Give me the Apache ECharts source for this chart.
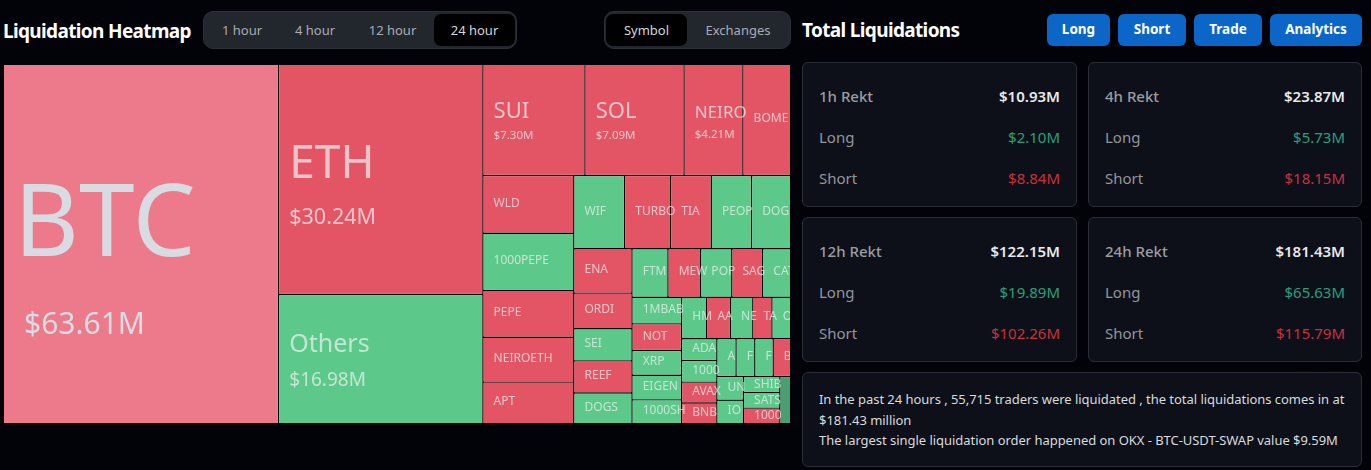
<!DOCTYPE html>
<html>
<head>
<meta charset="utf-8">
<title>Liquidation Heatmap</title>
<script src="https://cdn.jsdelivr.net/npm/echarts@6/dist/echarts.min.js"></script>
<style>
html, body { margin: 0; padding: 0; background: #020308; width: 1371px; height: 470px; overflow: hidden; }
body { font-family: "Noto Sans", sans-serif; color: #fff; position: relative; }
.abs { position: absolute; box-sizing: border-box; white-space: nowrap; }
.title { font-size: 19px; font-weight: 700; letter-spacing: -0.65px; line-height: 24px; }
.pill { background: #22262d; border: 1px solid #2c3037; border-radius: 10px; }
.tab { font-size: 13px; color: #a9adb3; text-align: center; line-height: 32px; height: 32px; }
.tab.on { background: #000; border-radius: 7px; color: #d5d7da; }
.btn { background: #0b66c8; border-radius: 6px; font-size: 13.5px; font-weight: 700; text-align: center; line-height: 31px; height: 32px; }
.card { background: #0d1018; border: 1px solid #2a2e36; border-radius: 6px; }
.row { font-size: 15px; line-height: 20px; }
.note { font-size: 13px; color: #d9dbde; line-height: 20.5px; letter-spacing: -0.04px; }
#chart { position: absolute; left: 4px; top: 65px; width: 786px; height: 358px; }
</style>
</head>
<body>
<div id="chart"></div>
<script>
// names as far as they can be read in the cells
var names = ['BTC', 'ETH', 'Others', 'SUI', 'SOL', 'NEIRO', 'BOME', 'WLD', '1000PEPE', 'PEPE', 'NEIROETH', 'APT',
    'WIF', 'TURBO', 'TIA', 'PEOP', 'DOGE', 'ENA', 'ORDI', 'SEI', 'REEF', 'DOGS',
    'FTM', 'MEW', 'POP', 'SAG', 'CAT', '1MBAB', 'NOT', 'XRP', 'EIGEN', '1000SH',
    'HM', 'AA', 'NE', 'TA', 'O', 'ADA', '1000', 'AVAX', 'BNB',
    'A', 'F', 'F', 'B', 'UN', 'IO', 'SHIB', 'SATS', '1000', ''];
var values = [63.61, 30.24, 16.98, 7.30, 7.09, 4.21, 3.42, 3.37, 3.34, 2.74, 2.62, 2.43,
    2.39, 2.17, 1.91, 1.90, 1.84, 1.66, 1.33, 1.205, 1.20, 1.15,
    1.12, 1.02, 0.97, 0.96, 0.875, 0.85, 0.845, 0.79, 0.785, 0.76,
    0.67, 0.63, 0.60, 0.51, 0.50, 0.495, 0.49, 0.475, 0.47,
    0.465, 0.455, 0.445, 0.425, 0.405, 0.40, 0.375, 0.37, 0.365, 0.33];
// 1 = long side (green), 0 = short side (red)
var isLong = [0, 0, 1, 0, 0, 0, 0, 0, 1, 0, 0, 0,
    1, 0, 0, 1, 1, 0, 0, 1, 0, 1,
    1, 0, 1, 0, 1, 1, 0, 1, 1, 1,
    1, 0, 1, 0, 1, 1, 1, 0, 0,
    1, 1, 1, 0, 1, 1, 1, 1, 0, 1];

var timeTabs = ['1 hour', '4 hour', '12 hour', '24 hour'];
var groupTabs = ['Symbol', 'Exchanges'];
var actions = ['Long', 'Short', 'Trade', 'Analytics'];
var rektLabels = ['1h Rekt', '4h Rekt', '12h Rekt', '24h Rekt'];
var rektTotal = ['$10.93M', '$23.87M', '$122.15M', '$181.43M'];
var rektLong = ['$2.10M', '$5.73M', '$19.89M', '$65.63M'];
var rektShort = ['$8.84M', '$18.15M', '$102.26M', '$115.79M'];
var noteLines = ['In the past 24 hours , 55,715 traders were liquidated , the total liquidations comes in at',
    '$181.43 million',
    'The largest single liquidation order happened on OKX - BTC-USDT-SWAP value $9.59M'];

function box(cls, text, x, y, w, h, css) {
    var el = document.createElement('div');
    el.className = 'abs ' + cls;
    el.textContent = text || '';
    el.style.left = x + 'px';
    el.style.top = y + 'px';
    if (w) el.style.width = w + 'px';
    if (h) el.style.height = h + 'px';
    if (css) el.style.cssText += css;
    document.body.appendChild(el);
    return el;
}

box('title', 'Liquidation Heatmap', 3, 19);
box('title', 'Total Liquidations', 802, 18);

// tab groups
box('pill', '', 203, 11, 314, 38);
var tabX = [207, 280, 355, 434], tabW = [70, 70, 75, 81];
timeTabs.forEach(function (t, i) {
    box('tab' + (i === 3 ? ' on' : ''), t, tabX[i], 14, tabW[i]);
});
box('pill', '', 604, 11, 187, 38);
groupTabs.forEach(function (t, i) {
    box('tab' + (i === 0 ? ' on' : ''), t, i === 0 ? 606 : 689, 14, i === 0 ? 81 : 98);
});

// action buttons
var btnX = [1047, 1118, 1194, 1270], btnW = [63, 68, 68, 92];
actions.forEach(function (t, i) {
    box('btn', t, btnX[i], 14, btnW[i]);
});

// rekt cards
rektLabels.forEach(function (label, i) {
    var x = i % 2 ? 1088 : 802, y = i < 2 ? 62 : 217;
    var w = i % 2 ? 274 : 275;
    box('card', '', x, y, w, 145);
    var rows = [[label, rektTotal[i], '#9a9da3', '#e8e9eb', 600],
        ['Long', rektLong[i], '#93969c', '#26a17b', 400],
        ['Short', rektShort[i], '#93969c', '#c9303f', 400]];
    rows.forEach(function (r, k) {
        var top = y + 24 + k * 41;
        box('row', r[0], x + 17, top, 0, 0, 'color:' + r[2] + ';font-weight:' + (k ? 400 : 500));
        box('row', r[1], x + 100, top, w - 117, 0, 'text-align:right;color:' + r[3] + ';font-weight:' + r[4]);
    });
});

box('card', '', 802, 372, 560, 95);
noteLines.forEach(function (t, i) {
    box('note', t, 819, 389 + i * 20.5);
});

// font size of a cell follows its value
function labelFor(v) {
    if (v > 50) return { name: 100, val: 30, lh: 156, lv: 38, pad: 10, nudge: 3 };
    if (v > 20) return { name: 46, val: 21.5, lh: 73, lv: 33, pad: 0, nudge: 2 };
    if (v > 10) return { name: 25, val: 19, lh: 40, lv: 32, pad: 0, nudge: 2 };
    if (v > 5) return { name: 22, val: 11.5, lh: 28, lv: 20, pad: 0, nudge: 2 };
    if (v > 4) return { name: 17, val: 11.5, lh: 26, lv: 18, pad: 0, nudge: 2 };
    // the last cells are lower than a normal line
    if (v < 0.39) return { name: 12, val: 12, lh: 12, lv: 0, pad: 0, nudge: 0 };
    return { name: 12, val: 12, lh: 16, lv: 0, pad: 0, nudge: -1 };
}

function buildData(heights) {
    return names.map(function (name, i) {
        var v = values[i];
        var s = labelFor(v);
        var color = isLong[i] ? '#5cc98a' : '#e35565';
        var textColor = 'rgba(238,240,240,0.72)';
        if (i === 0) {
            color = '#ec7a8a';
            textColor = '#d9dbe2';
        }
        if (name === '') color = '#4a9f70';
        // treemap labels start at the top of the cell, so push them down to its middle
        var top = heights ? Math.max(0, (heights[v] - s.lh - s.lv) / 2 + s.nudge) : 0;
        return {
            name: name,
            value: v,
            itemStyle: { color: color },
            label: {
                padding: [top, 0, 0, 0],
                formatter: v > 4 ? '{n|{b}}\n{v|$' + v.toFixed(2) + 'M}' : '{n|{b}}',
                rich: {
                    n: { fontSize: s.name, lineHeight: s.lh, color: textColor, fontFamily: 'Noto Sans' },
                    v: { fontSize: s.val, lineHeight: s.lv, color: textColor, fontFamily: 'Noto Sans', padding: [0, 0, 0, s.pad] }
                }
            }
        };
    });
}

var myChart = echarts.init(document.getElementById('chart'));
myChart.setOption({
    animation: false,
    backgroundColor: '#000',
    series: [{
        type: 'treemap',
        left: 0, top: 0, right: 0, bottom: 0,
        roam: false,
        nodeClick: false,
        breadcrumb: { show: false },
        label: {
            show: true,
            position: 'insideLeft',
            distance: 10,
            overflow: 'none'
        },
        itemStyle: { borderWidth: 0, gapWidth: 0 },
        levels: [{ itemStyle: { borderColor: '#000', borderWidth: 0, gapWidth: 1.4 } }],
        data: buildData()
    }]
});

// second pass, now the cell heights are known
var heights = {};
myChart.getModel().getSeriesByIndex(0).getData().tree.root.children.forEach(function (node) {
    heights[node.getValue()] = node.getLayout().height;
});
myChart.setOption({ series: [{ data: buildData(heights) }] });
</script>
</body>
</html>
